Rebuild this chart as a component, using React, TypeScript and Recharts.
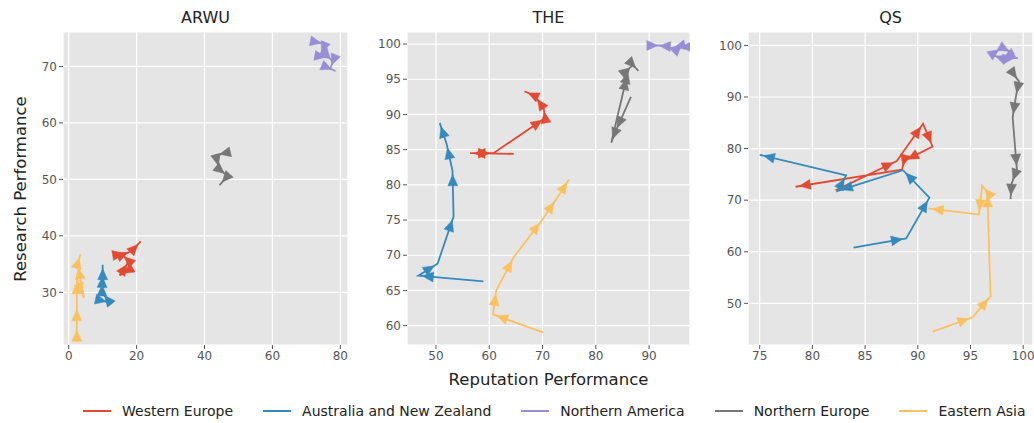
import React from "react";
import { CartesianGrid, Scatter, ScatterChart, XAxis, YAxis } from "recharts";

document.body.style.margin = "0";

type Pt = [number, number];

const regionNames = [
  "Western Europe",
  "Australia and New Zealand",
  "Northern America",
  "Northern Europe",
  "Eastern Asia",
];
const regionColors = ["#E24A33", "#348ABD", "#988ED5", "#777777", "#FBC15E"];

// ARWU trajectories (reputation, research)
const arwuWesternEurope: Pt[] = [[17.8, 34.0], [15.0, 33.0], [17.8, 35.5], [15.5, 36.8], [17.3, 37.0], [18.5, 37.3], [21.2, 39.0]];
const arwuAustraliaNZ: Pt[] = [[10.0, 28.5], [12.2, 28.2], [9.8, 30.0], [9.9, 32.0], [10.0, 33.5], [10.0, 34.9]];
const arwuNorthernAmerica: Pt[] = [[73.0, 74.3], [75.5, 74.0], [74.0, 71.8], [76.8, 71.5], [77.8, 70.8], [77.0, 69.6], [78.6, 69.2]];
const arwuNorthernEurope: Pt[] = [[45.5, 54.6], [43.3, 54.3], [44.3, 51.8], [46.8, 50.6], [44.4, 49.0]];
const arwuEasternAsia: Pt[] = [[2.4, 21.2], [2.4, 24.0], [2.4, 27.6], [2.4, 32.4], [4.5, 29.0], [2.6, 35.0], [3.5, 36.8]];

// THE trajectories
const theWesternEurope: Pt[] = [[64.6, 84.4], [56.4, 84.5], [60.8, 84.5], [70.5, 89.5], [70.2, 90.9], [68.6, 92.6], [66.6, 93.3]];
const theAustraliaNZ: Pt[] = [[58.9, 66.3], [46.7, 67.1], [50.3, 68.8], [53.3, 75.5], [53.1, 82.0], [52.0, 85.8], [50.7, 88.8]];
const theNorthernAmerica: Pt[] = [[96.2, 99.6], [95.1, 99.6], [94.0, 99.4], [93.0, 99.7], [91.2, 99.8], [92.4, 99.8]];
const theNorthernEurope: Pt[] = [[86.6, 92.5], [83.7, 87.6], [82.9, 86.0], [85.9, 95.6], [86.2, 96.5], [87.0, 97.0], [88.0, 96.2]];
const theEasternAsia: Pt[] = [[70.2, 59.0], [60.7, 61.6], [61.3, 65.0], [64.6, 69.7], [69.9, 75.0], [72.6, 78.0], [75.0, 80.8]];

// QS trajectories
const qsWesternEurope: Pt[] = [[82.2, 71.9], [88.0, 77.6], [90.5, 84.8], [91.4, 80.4], [88.7, 77.6], [88.5, 75.9], [78.4, 72.6]];
const qsAustraliaNZ: Pt[] = [[83.9, 60.8], [88.9, 62.6], [91.1, 70.5], [88.6, 75.8], [82.4, 71.8], [83.2, 74.8], [75.0, 78.8]];
const qsNorthernAmerica: Pt[] = [[98.6, 97.0], [97.0, 98.2], [98.0, 99.6], [99.0, 98.5], [97.8, 97.3], [99.5, 97.6]];
const qsNorthernEurope: Pt[] = [[98.9, 95.0], [99.6, 93.0], [99.3, 90.0], [99.0, 86.0], [99.4, 76.0], [98.9, 73.2], [98.8, 70.2]];
const qsEasternAsia: Pt[] = [[91.4, 44.5], [95.2, 47.3], [96.9, 51.4], [96.6, 71.6], [96.1, 72.8], [95.8, 67.2], [91.0, 68.4]];

const arwuXTicks = [0, 20, 40, 60, 80];
const arwuYTicks = [30, 40, 50, 60, 70];
const theXTicks = [50, 60, 70, 80, 90];
const theYTicks = [60, 65, 70, 75, 80, 85, 90, 95, 100];
const qsXTicks = [75, 80, 85, 90, 95, 100];
const qsYTicks = [50, 60, 70, 80, 90, 100];

const PLOT_TOP = 32;
const PLOT_H = 313;
const Y_AXIS_W = 45;
const X_AXIS_H = 25;
const RIGHT_PAD = 14;

const panels = [
  {
    title: "ARWU",
    plotLeft: 63,
    plotW: 285,
    xDomain: [-1.68, 82.25] as [number, number],
    yDomain: [20.67, 76.1] as [number, number],
    xTicks: arwuXTicks,
    yTicks: arwuYTicks,
    series: [arwuWesternEurope, arwuAustraliaNZ, arwuNorthernAmerica, arwuNorthernEurope, arwuEasternAsia],
  },
  {
    title: "THE",
    plotLeft: 407,
    plotW: 283,
    xDomain: [44.56, 97.68] as [number, number],
    yDomain: [57.25, 101.71] as [number, number],
    xTicks: theXTicks,
    yTicks: theYTicks,
    series: [theWesternEurope, theAustraliaNZ, theNorthernAmerica, theNorthernEurope, theEasternAsia],
  },
  {
    title: "QS",
    plotLeft: 748,
    plotW: 285,
    xDomain: [73.89, 100.93] as [number, number],
    yDomain: [41.92, 102.6] as [number, number],
    xTicks: qsXTicks,
    yTicks: qsYTicks,
    series: [qsWesternEurope, qsAustraliaNZ, qsNorthernAmerica, qsNorthernEurope, qsEasternAsia],
  },
];

// arrowhead like matplotlib's "-|>": tip pulled back a little from the point
const SHRINK = 4;
const HEAD_LEN = 11;
const HEAD_HALF = 5;

function makeArrow(color: string, sx: number, sy: number) {
  return (props: any) => {
    const { cx, cy, payload } = props;
    if (cx == null || cy == null || payload == null || payload.px == null) return <g />;
    const dx = (payload.x - payload.px) * sx;
    const dy = -(payload.y - payload.py) * sy;
    const len = Math.hypot(dx, dy) || 1;
    const ux = dx / len;
    const uy = dy / len;
    const tx = cx - ux * SHRINK;
    const ty = cy - uy * SHRINK;
    const bx = tx - ux * HEAD_LEN;
    const by = ty - uy * HEAD_LEN;
    const nx = -uy;
    const ny = ux;
    const pts = `${tx},${ty} ${bx + nx * HEAD_HALF},${by + ny * HEAD_HALF} ${bx - nx * HEAD_HALF},${by - ny * HEAD_HALF}`;
    return <polygon points={pts} fill={color} stroke={color} strokeWidth={0.5} />;
  };
}

function toRows(pts: Pt[]) {
  return pts.map(([x, y], i) => ({
    x,
    y,
    px: i > 0 ? pts[i - 1][0] : null,
    py: i > 0 ? pts[i - 1][1] : null,
  }));
}

const tickStyle = { fill: "#555555", fontSize: 12, fontFamily: "DejaVu Sans" };

function Panel({ p }: { p: (typeof panels)[number] }) {
  const sx = p.plotW / (p.xDomain[1] - p.xDomain[0]);
  const sy = PLOT_H / (p.yDomain[1] - p.yDomain[0]);
  const width = Y_AXIS_W + p.plotW + RIGHT_PAD;
  const height = PLOT_TOP + PLOT_H + X_AXIS_H;
  return (
    <>
      <div
        style={{
          position: "absolute",
          left: p.plotLeft,
          width: p.plotW,
          top: 7,
          height: 22,
          lineHeight: "22px",
          textAlign: "center",
          fontSize: 16,
          color: "#222",
        }}
      >
        {p.title}
      </div>
      <div style={{ position: "absolute", left: p.plotLeft - Y_AXIS_W, top: 0 }}>
        <ScatterChart
          width={width}
          height={height}
          margin={{ top: PLOT_TOP, right: RIGHT_PAD, bottom: 0, left: 0 }}
        >
          <CartesianGrid fill="#E5E5E5" stroke="#FFFFFF" strokeWidth={1.2} />
          <XAxis
            type="number"
            dataKey="x"
            domain={p.xDomain}
            ticks={p.xTicks}
            allowDataOverflow
            height={X_AXIS_H}
            axisLine={false}
            tickLine={{ stroke: "#555555" }}
            tickSize={4}
            tick={tickStyle}
            interval={0}
          />
          <YAxis
            type="number"
            dataKey="y"
            domain={p.yDomain}
            ticks={p.yTicks}
            allowDataOverflow
            width={Y_AXIS_W}
            axisLine={false}
            tickLine={{ stroke: "#555555" }}
            tickSize={4}
            tick={tickStyle}
            interval={0}
          />
          {p.series.map((s, i) => (
            <Scatter
              key={regionNames[i]}
              name={regionNames[i]}
              data={toRows(s)}
              line={{ stroke: regionColors[i], strokeWidth: 1.8 }}
              lineType="joint"
              shape={makeArrow(regionColors[i], sx, sy)}
              isAnimationActive={false}
            />
          ))}
        </ScatterChart>
      </div>
    </>
  );
}

export default function App() {
  return (
    <div
      style={{
        position: "relative",
        width: 1034,
        height: 423,
        background: "#fff",
        fontFamily: "DejaVu Sans",
        overflow: "hidden",
      }}
    >
      {panels.map((p) => (
        <Panel key={p.title} p={p} />
      ))}
      <div
        style={{
          position: "absolute",
          left: 20,
          top: PLOT_TOP + PLOT_H / 2,
          transform: "translate(-50%, -50%) rotate(-90deg)",
          whiteSpace: "nowrap",
          fontSize: 16.5,
          color: "#222",
        }}
      >
        Research Performance
      </div>
      <div
        style={{
          position: "absolute",
          left: 407,
          width: 283,
          top: 369,
          textAlign: "center",
          fontSize: 16.5,
          lineHeight: "22px",
          color: "#222",
          whiteSpace: "nowrap",
        }}
      >
        Reputation Performance
      </div>
      <div
        style={{
          position: "absolute",
          left: 0,
          width: 1100,
          top: 401,
          display: "flex",
          paddingLeft: 83,
          boxSizing: "border-box",
          gap: 30,
          fontSize: 14,
          lineHeight: "20px",
          color: "#222",
        }}
      >
        {regionNames.map((n, i) => (
          <div key={n} style={{ display: "flex", alignItems: "center", whiteSpace: "nowrap" }}>
            <span
              style={{
                display: "inline-block",
                width: 28,
                height: 2,
                background: regionColors[i],
                marginRight: 11,
              }}
            />
            {n}
          </div>
        ))}
      </div>
    </div>
  );
}
